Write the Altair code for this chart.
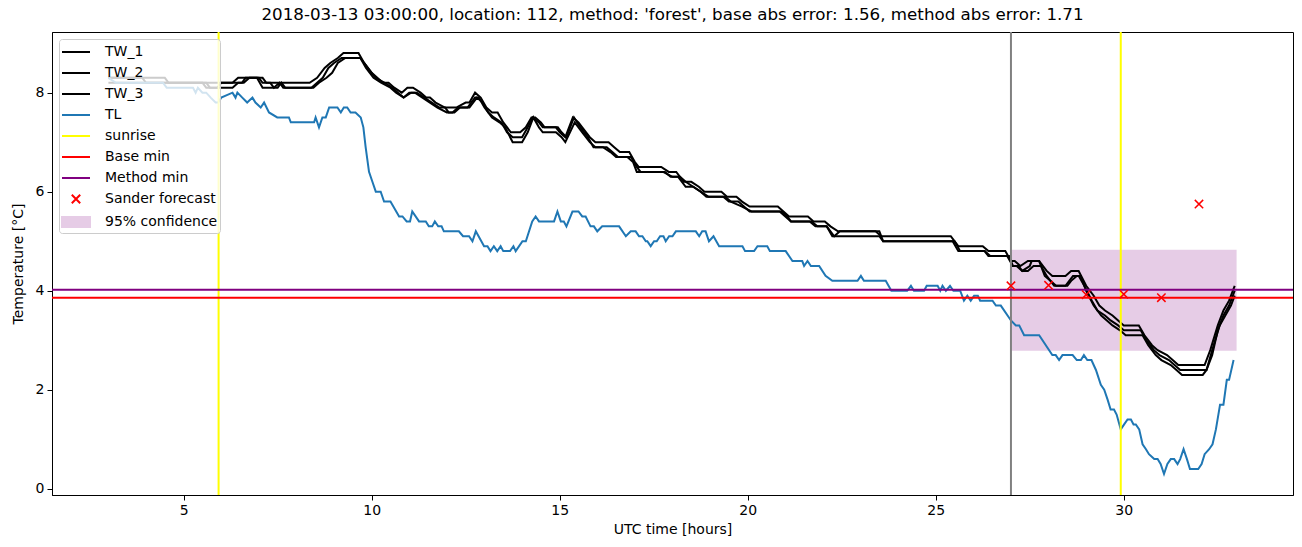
import altair as alt
import pandas as pd

TITLE = "2018-03-13 03:00:00, location: 112, method: 'forest', base abs error: 1.56, method abs error: 1.71"
X_TITLE = "UTC time [hours]"
Y_TITLE = "Temperature [°C]"

# (hour, value) pairs
TW1 = [(3.0, 8.3), (4.5, 8.3), (4.6, 8.2), (6.3, 8.2), (6.45, 8.3), (7.1, 8.3), (7.2, 8.2), (8.35, 8.2),
       (8.55, 8.3), (8.75, 8.5), (8.9, 8.6), (9.1, 8.7), (9.25, 8.8), (9.65, 8.8), (9.8, 8.6), (10.0, 8.4),
       (10.15, 8.3), (10.3, 8.2), (10.45, 8.2), (10.6, 8.1), (10.8, 8.0), (10.95, 8.1), (11.1, 8.1),
       (11.3, 8.0), (11.45, 7.9), (11.55, 7.9), (11.7, 7.8), (11.95, 7.7), (12.25, 7.7), (12.5, 7.8),
       (12.6, 7.8), (12.75, 8.0), (12.9, 7.9), (13.05, 7.7), (13.2, 7.6), (13.35, 7.6), (13.5, 7.4),
       (13.7, 7.2), (13.95, 7.2), (14.1, 7.3), (14.25, 7.5), (14.35, 7.5), (14.5, 7.4), (14.6, 7.3),
       (14.9, 7.3), (15.0, 7.2), (15.15, 7.1), (15.35, 7.5), (15.5, 7.4), (15.6, 7.3), (15.8, 7.1),
       (15.95, 7.0), (16.3, 7.0), (16.45, 6.9), (16.6, 6.8), (16.85, 6.8), (17.0, 6.6), (17.1, 6.5),
       (17.7, 6.5), (17.9, 6.4), (18.1, 6.4), (18.3, 6.2), (18.5, 6.2), (18.7, 6.1), (18.85, 6.0),
       (19.3, 6.0), (19.45, 5.9), (19.7, 5.9), (19.85, 5.8), (20.05, 5.7), (20.8, 5.7), (20.95, 5.6),
       (21.1, 5.5), (21.6, 5.5), (21.75, 5.4), (22.05, 5.4), (22.2, 5.3), (22.4, 5.2), (23.4, 5.2),
       (23.55, 5.1), (25.4, 5.1), (25.6, 4.9), (26.25, 4.9), (26.4, 4.8), (26.85, 4.8), (27.0, 4.6),
       (27.1, 4.6), (27.25, 4.5), (27.45, 4.6), (27.75, 4.6), (27.95, 4.4), (28.1, 4.3), (28.45, 4.3),
       (28.6, 4.4), (28.8, 4.4), (29.0, 4.1), (29.2, 3.9), (29.35, 3.7), (29.5, 3.6), (29.7, 3.5),
       (29.85, 3.4), (30.0, 3.3), (30.4, 3.3), (30.55, 3.1), (30.75, 2.9), (30.9, 2.8), (31.15, 2.7),
       (31.3, 2.6), (31.45, 2.5), (32.15, 2.5), (32.3, 2.8), (32.5, 3.3), (32.65, 3.6), (32.8, 3.8),
       (32.95, 4.1)]

TW2 = [(3.0, 8.3), (3.9, 8.3), (4.0, 8.2), (5.6, 8.2), (5.7, 8.1), (5.9, 8.1), (6.0, 8.2), (6.55, 8.2),
       (6.65, 8.3), (7.0, 8.3), (7.1, 8.2), (7.3, 8.2), (7.4, 8.1), (7.55, 8.2), (7.65, 8.1), (8.4, 8.1),
       (8.55, 8.2), (8.7, 8.3), (8.85, 8.5), (9.0, 8.6), (9.2, 8.7), (9.7, 8.7), (9.85, 8.5), (10.05, 8.3),
       (10.25, 8.2), (10.5, 8.1), (10.65, 8.0), (10.85, 7.9), (11.0, 8.0), (11.15, 8.0), (11.35, 7.9),
       (11.55, 7.8), (11.75, 7.7), (12.0, 7.6), (12.15, 7.6), (12.3, 7.7), (12.6, 7.7), (12.8, 7.9),
       (12.95, 7.8), (13.1, 7.6), (13.25, 7.5), (13.45, 7.4), (13.6, 7.2), (13.75, 7.1), (14.0, 7.1),
       (14.15, 7.3), (14.28, 7.5), (14.45, 7.4), (14.55, 7.3), (14.95, 7.3), (15.05, 7.2), (15.18, 7.1),
       (15.38, 7.5), (15.55, 7.3), (15.75, 7.1), (15.9, 6.9), (16.25, 6.9), (16.4, 6.8), (16.55, 6.7),
       (16.9, 6.7), (17.05, 6.5), (17.15, 6.4), (17.8, 6.4), (17.95, 6.3), (18.2, 6.3), (18.35, 6.2),
       (18.55, 6.1), (18.75, 6.0), (18.95, 5.9), (19.4, 5.9), (19.55, 5.8), (19.85, 5.7), (20.1, 5.6),
       (20.9, 5.6), (21.05, 5.5), (21.15, 5.4), (21.7, 5.4), (21.85, 5.3), (22.1, 5.3), (22.3, 5.1),
       (22.45, 5.2), (23.5, 5.2), (23.6, 5.0), (25.5, 5.0), (25.65, 4.8), (26.3, 4.8), (26.45, 4.7),
       (26.9, 4.7), (27.05, 4.5), (27.15, 4.5), (27.3, 4.4), (27.5, 4.5), (27.55, 4.6), (27.75, 4.6),
       (27.9, 4.3), (28.05, 4.2), (28.2, 4.1), (28.45, 4.1), (28.55, 4.2), (28.65, 4.3), (28.8, 4.3),
       (28.95, 4.1), (29.15, 3.8), (29.3, 3.6), (29.5, 3.5), (29.65, 3.4), (29.85, 3.3), (30.0, 3.2),
       (30.45, 3.2), (30.6, 3.0), (30.8, 2.8), (30.95, 2.7), (31.2, 2.6), (31.35, 2.5), (31.5, 2.4),
       (32.2, 2.4), (32.35, 2.7), (32.5, 3.2), (32.65, 3.5), (32.8, 3.7), (32.95, 4.0)]

TW3 = [(3.0, 8.2), (5.5, 8.2), (5.6, 8.1), (6.3, 8.1), (6.45, 8.2), (6.6, 8.2), (6.75, 8.3), (6.95, 8.3),
       (7.1, 8.1), (7.5, 8.1), (7.6, 8.2), (7.7, 8.1), (8.45, 8.1), (8.6, 8.2), (8.8, 8.3), (8.95, 8.4),
       (9.1, 8.6), (9.3, 8.7), (9.7, 8.7), (9.9, 8.5), (10.1, 8.3), (10.35, 8.2), (10.55, 8.1), (10.7, 8.0),
       (10.85, 7.9), (11.05, 8.0), (11.2, 8.0), (11.4, 7.9), (11.6, 7.8), (11.8, 7.7), (11.95, 7.7),
       (12.05, 7.6), (12.2, 7.6), (12.35, 7.7), (12.55, 7.7), (12.75, 7.9), (12.85, 7.9), (13.0, 7.7),
       (13.2, 7.5), (13.4, 7.4), (13.55, 7.3), (13.75, 7.0), (14.0, 7.0), (14.15, 7.2), (14.3, 7.5),
       (14.45, 7.3), (14.55, 7.2), (14.9, 7.2), (15.05, 7.1), (15.15, 7.0), (15.4, 7.4), (15.6, 7.2),
       (15.8, 7.0), (15.95, 6.9), (16.15, 6.9), (16.35, 6.8), (16.5, 6.7), (16.8, 6.7), (16.95, 6.6),
       (17.05, 6.4), (17.75, 6.4), (18.0, 6.3), (18.15, 6.3), (18.35, 6.1), (18.55, 6.1), (18.75, 6.0),
       (18.9, 5.9), (19.35, 5.9), (19.5, 5.8), (19.75, 5.8), (19.9, 5.7), (20.05, 5.6), (20.85, 5.6),
       (21.0, 5.5), (21.15, 5.4), (21.65, 5.4), (21.8, 5.3), (22.1, 5.3), (22.25, 5.1), (23.5, 5.1),
       (23.6, 5.0), (25.45, 5.0), (25.6, 4.8), (26.3, 4.8), (26.4, 4.7), (26.95, 4.7), (27.05, 4.5),
       (27.2, 4.5), (27.3, 4.4), (27.45, 4.4), (27.6, 4.5), (27.8, 4.5), (27.95, 4.3), (28.15, 4.1),
       (28.5, 4.1), (28.6, 4.2), (28.75, 4.3), (28.85, 4.3), (29.0, 4.0), (29.2, 3.7), (29.4, 3.5),
       (29.55, 3.4), (29.7, 3.3), (29.9, 3.2), (30.05, 3.1), (30.5, 3.1), (30.65, 2.9), (30.85, 2.7),
       (31.0, 2.6), (31.25, 2.5), (31.4, 2.4), (31.55, 2.3), (32.1, 2.3), (32.2, 2.4), (32.35, 2.8),
       (32.55, 3.3), (32.7, 3.5), (32.85, 3.7), (32.95, 3.9)]

TL = [(3.0, 8.3), (3.2, 8.2), (4.45, 8.2), (4.55, 8.1), (5.25, 8.1), (5.32, 8.0), (5.38, 8.1), (5.5, 8.0),
      (5.6, 8.0), (5.72, 7.9), (5.85, 7.8), (5.92, 7.8), (6.0, 7.9), (6.3, 8.0), (6.38, 7.9), (6.43, 8.0),
      (6.56, 7.9), (6.69, 7.8), (6.83, 7.9), (6.91, 7.8), (7.05, 7.7), (7.14, 7.8), (7.27, 7.6),
      (7.49, 7.5), (7.8, 7.5), (7.85, 7.4), (8.47, 7.4), (8.51, 7.5), (8.6, 7.3), (8.69, 7.5), (8.78, 7.5),
      (8.87, 7.7), (9.09, 7.7), (9.18, 7.6), (9.26, 7.7), (9.35, 7.7), (9.44, 7.6), (9.57, 7.6),
      (9.71, 7.5), (9.78, 7.3), (9.84, 6.9), (9.93, 6.4), (10.02, 6.2), (10.11, 6.0), (10.24, 6.0),
      (10.33, 5.8), (10.5, 5.8), (10.73, 5.5), (10.82, 5.5), (10.93, 5.4), (11.02, 5.4), (11.08, 5.6),
      (11.26, 5.4), (11.44, 5.4), (11.52, 5.3), (11.61, 5.3), (11.68, 5.4), (11.77, 5.3), (11.86, 5.3),
      (11.92, 5.2), (12.32, 5.2), (12.43, 5.1), (12.59, 5.1), (12.68, 5.0), (12.77, 5.2), (12.99, 4.9),
      (13.08, 4.9), (13.16, 4.8), (13.25, 4.9), (13.34, 4.8), (13.43, 4.9), (13.5, 4.8), (13.68, 4.8),
      (13.77, 4.9), (13.83, 4.8), (14.01, 5.0), (14.1, 5.0), (14.27, 5.4), (14.36, 5.5), (14.45, 5.4),
      (14.85, 5.4), (14.94, 5.6), (15.03, 5.4), (15.11, 5.4), (15.18, 5.3), (15.34, 5.6), (15.5, 5.6),
      (15.6, 5.5), (15.69, 5.5), (15.82, 5.3), (15.91, 5.3), (16.0, 5.2), (16.13, 5.3), (16.58, 5.3),
      (16.76, 5.1), (16.89, 5.2), (17.02, 5.2), (17.11, 5.1), (17.2, 5.1), (17.29, 5.0), (17.33, 5.0),
      (17.42, 4.9), (17.51, 5.0), (17.58, 5.0), (17.67, 5.1), (17.76, 5.1), (17.82, 5.0), (17.91, 5.1),
      (18.0, 5.1), (18.09, 5.2), (18.62, 5.2), (18.71, 5.1), (18.79, 5.2), (18.88, 5.2), (18.97, 5.0),
      (19.09, 5.1), (19.24, 4.9), (19.86, 4.9), (19.93, 4.8), (20.17, 4.8), (20.26, 4.9), (20.52, 4.9),
      (20.59, 4.8), (21.01, 4.8), (21.19, 4.6), (21.45, 4.6), (21.5, 4.5), (21.59, 4.6), (21.68, 4.5),
      (21.9, 4.5), (22.07, 4.3), (22.25, 4.2), (22.92, 4.2), (23.01, 4.3), (23.09, 4.2), (23.67, 4.2),
      (23.82, 4.0), (24.24, 4.0), (24.34, 4.1), (24.42, 4.0), (24.69, 4.0), (24.76, 4.1), (25.05, 4.1),
      (25.12, 4.0), (25.18, 4.1), (25.27, 4.0), (25.38, 4.1), (25.47, 4.0), (25.65, 4.0), (25.75, 3.8),
      (25.84, 3.9), (25.93, 3.8), (26.02, 3.9), (26.12, 3.9), (26.18, 3.8), (26.51, 3.8), (26.6, 3.7),
      (26.73, 3.7), (27.0, 3.4), (27.13, 3.3), (27.22, 3.3), (27.35, 3.1), (27.75, 3.1), (28.1, 2.7),
      (28.19, 2.7), (28.28, 2.6), (28.37, 2.7), (28.64, 2.7), (28.75, 2.6), (28.86, 2.6), (28.94, 2.7),
      (29.03, 2.6), (29.14, 2.6), (29.26, 2.4), (29.39, 2.1), (29.48, 2.0), (29.57, 1.8), (29.65, 1.6),
      (29.74, 1.6), (29.81, 1.5), (29.92, 1.2), (30.01, 1.3), (30.1, 1.4), (30.19, 1.4), (30.26, 1.3),
      (30.32, 1.3), (30.41, 1.2), (30.5, 0.9), (30.59, 0.8), (30.67, 0.7), (30.81, 0.6), (30.9, 0.6),
      (30.98, 0.5), (31.07, 0.3), (31.16, 0.5), (31.25, 0.6), (31.34, 0.6), (31.43, 0.5), (31.5, 0.6),
      (31.59, 0.8), (31.68, 0.6), (31.76, 0.4), (31.98, 0.4), (32.07, 0.5), (32.15, 0.7), (32.27, 0.8),
      (32.36, 0.9), (32.45, 1.2), (32.56, 1.7), (32.65, 1.7), (32.74, 2.2), (32.8, 2.2), (32.92, 2.6)]

SUNRISE = [5.93, 29.92]
FORECAST_TIME = [27.0]
BASE_MIN = [3.86]
METHOD_MIN = [4.02]
SANDER_T = [27.0, 28.0, 29.0, 30.0, 31.0, 32.0]
SANDER_V = [4.10, 4.11, 3.92, 3.93, 3.86, 5.75]
CONF_T = [27.0, 33.0]
CONF_V = [2.79, 4.83]

X_DOMAIN = [1.5, 34.5]
Y_DOMAIN = [-0.125, 9.225]
X_TICKS = [5, 10, 15, 20, 25, 30]
Y_TICKS = [0, 2, 4, 6, 8]

LEG_LABELS = ["TW_1", "TW_2", "TW_3", "TL", "sunrise", "Base min", "Method min",
              "Sander forecast", "95% confidence"]
LEG_COLORS = ["black", "black", "black", "#1f77b4", "yellow", "red", "purple", "red", "#e6cce6"]
LINE_PATH = "M-1.4,0H1.4"
X_PATH = "M-0.42,-0.42L0.42,0.42M-0.42,0.42L0.42,-0.42"
RECT_PATH = "M-1.4,-0.5H1.4V0.5H-1.4Z"
LEG_SHAPES = [LINE_PATH] * 7 + [X_PATH, RECT_PATH]

FONT = "DejaVu Sans"

rows = []
for name, pts in [("TW_1", TW1), ("TW_2", TW2), ("TW_3", TW3)]:
    for i, (t, v) in enumerate(pts):
        rows.append({"series": name, "t": t, "v": v, "i": i})
tw_df = pd.DataFrame(rows)
tl_df = pd.DataFrame({"t": [p[0] for p in TL], "v": [p[1] for p in TL], "i": list(range(len(TL)))})
vline_df = pd.DataFrame({"t": SUNRISE + FORECAST_TIME,
                         "c": ["yellow"] * len(SUNRISE) + ["gray"] * len(FORECAST_TIME)})
hline_df = pd.DataFrame({"v": BASE_MIN + METHOD_MIN,
                         "c": ["red"] * len(BASE_MIN) + ["purple"] * len(METHOD_MIN)})
sander_df = pd.DataFrame({"t": SANDER_T, "v": SANDER_V})
band_df = pd.DataFrame({"t0": [CONF_T[0]], "t1": [CONF_T[1]], "lo": [CONF_V[0]], "hi": [CONF_V[1]]})

xs = alt.Scale(domain=X_DOMAIN, nice=False, zero=False)
ys = alt.Scale(domain=Y_DOMAIN, nice=False, zero=False)
xa = alt.Axis(values=X_TICKS, format="d", title=X_TITLE)
ya = alt.Axis(values=Y_TICKS, format="d", title=Y_TITLE)


def X(f):
    return alt.X(f, scale=xs, axis=xa)


def Y(f):
    return alt.Y(f, scale=ys, axis=ya)


band = alt.Chart(band_df).mark_rect(color="purple", opacity=0.2).encode(
    x=X("t0:Q"), x2="t1:Q", y=Y("lo:Q"), y2="hi:Q")

tw = alt.Chart(tw_df).mark_line(color="black", strokeWidth=2).encode(
    x=X("t:Q"), y=Y("v:Q"), detail="series:N", order="i:Q")

tl = alt.Chart(tl_df).mark_line(color="#1f77b4", strokeWidth=2).encode(
    x=X("t:Q"), y=Y("v:Q"), order="i:Q")

vrules = alt.Chart(vline_df).mark_rule(strokeWidth=2).encode(
    x=X("t:Q"), color=alt.Color("c:N", scale=None))

hrules = alt.Chart(hline_df).mark_rule(strokeWidth=2).encode(
    y=Y("v:Q"), color=alt.Color("c:N", scale=None))

sander = alt.Chart(sander_df).mark_point(
    shape="M-1,-1L1,1M-1,1L1,-1", color="red", size=70, strokeWidth=1.5, opacity=1).encode(
    x=X("t:Q"), y=Y("v:Q"))

leg_values = [{"label": l} for l in LEG_LABELS]
legend_layer = alt.Chart(alt.Data(values=leg_values)).transform_filter(
    "datum.label == 'nothing'").mark_point(opacity=1, strokeWidth=2).encode(
    fill=alt.Fill("label:N", scale=alt.Scale(domain=LEG_LABELS, range=LEG_COLORS),
                  legend=alt.Legend(title=None)),
    stroke=alt.Stroke("label:N", scale=alt.Scale(domain=LEG_LABELS, range=LEG_COLORS),
                      legend=alt.Legend(title=None)),
    shape=alt.Shape("label:N", scale=alt.Scale(domain=LEG_LABELS, range=LEG_SHAPES),
                    legend=alt.Legend(title=None)),
)

chart = alt.layer(band, tw, tl, vrules, hrules, sander, legend_layer).properties(
    width=1241, height=463,
    title=alt.Title(TITLE, fontSize=16.7, font=FONT, fontWeight="normal", color="black",
                    offset=7, anchor="middle"),
    padding={"left": 52, "top": 32, "right": 9, "bottom": 52},
    autosize=alt.AutoSizeParams(type="none"),
).configure_view(stroke="black", strokeWidth=1).configure_axis(
    labelFont=FONT, titleFont=FONT, labelFontSize=14, titleFontSize=14, titleFontWeight="normal",
    labelColor="black", titleColor="black", tickColor="black", domainColor="black",
    tickSize=5, tickWidth=1, domainWidth=1, grid=False, labelPadding=3,
).configure_axisX(titlePadding=5).configure_axisY(titlePadding=10).configure_legend(
    orient="top-left", offset=7, padding=2, fillColor="rgba(255,255,255,0.8)",
    strokeColor="#cccccc", cornerRadius=3, labelFont=FONT, labelFontSize=14, labelColor="black",
    symbolSize=400, symbolStrokeWidth=2, rowPadding=3, labelOffset=18, symbolOffset=4,
    symbolOpacity=1,
)

chart.save("out.html", embed_options={"renderer": "svg", "actions": False})
